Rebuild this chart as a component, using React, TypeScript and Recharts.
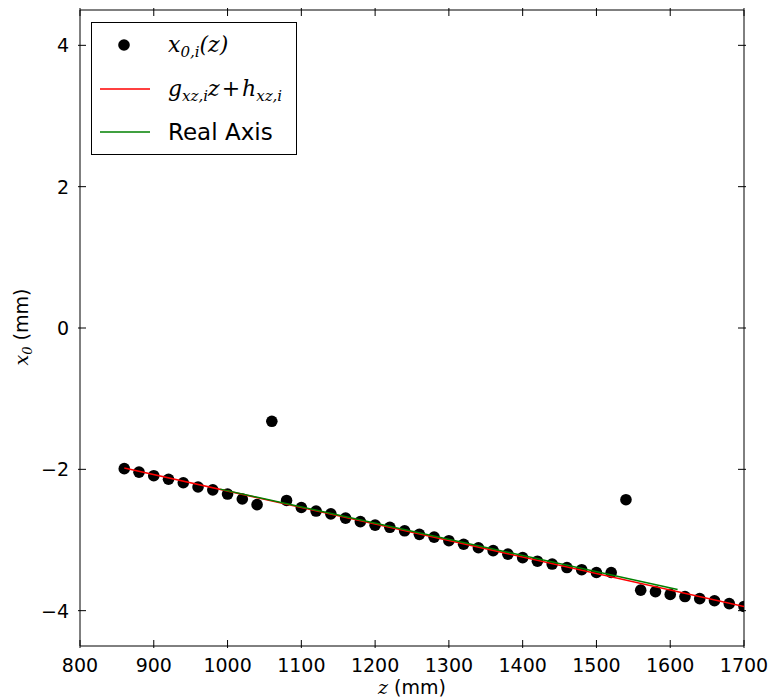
import React from "react";
import {
  ComposedChart,
  Scatter,
  XAxis,
  YAxis,
} from "recharts";

// sample positions along the beam (mm) and measured x0 (mm)
const zValues = [
  860, 880, 900, 920, 940, 960, 980, 1000, 1020, 1040, 1060, 1080, 1100, 1120,
  1140, 1160, 1180, 1200, 1220, 1240, 1260, 1280, 1300, 1320, 1340, 1360, 1380,
  1400, 1420, 1440, 1460, 1480, 1500, 1520, 1540, 1560, 1580, 1600, 1620, 1640,
  1660, 1680, 1700,
];
const x0Values = [
  -1.99, -2.04, -2.09, -2.14, -2.19, -2.25, -2.29, -2.35, -2.42, -2.5, -1.32,
  -2.44, -2.54, -2.59, -2.63, -2.69, -2.74, -2.79, -2.82, -2.87, -2.92, -2.96,
  -3.01, -3.06, -3.11, -3.15, -3.2, -3.25, -3.3, -3.34, -3.39, -3.42, -3.46,
  -3.46, -2.43, -3.71, -3.73, -3.77, -3.8, -3.83, -3.86, -3.9, -3.94,
];

// fitted line g*z + h, end points
const fitZ = [860, 1700];
const fitX0 = [-1.98, -3.94];

// real axis, end points
const realZ = [990, 1610];
const realX0 = [-2.28, -3.7];

const xTicks = [800, 900, 1000, 1100, 1200, 1300, 1400, 1500, 1600, 1700];
const yTicks = [-4, -2, 0, 2, 4];

const points = zValues.map((z, i) => ({ z, x0: x0Values[i] }));
const fitLine = fitZ.map((z, i) => ({ z, x0: fitX0[i] }));
const realLine = realZ.map((z, i) => ({ z, x0: realX0[i] }));

const TICK_LEN = 8;
const FONT = "'DejaVu Sans', sans-serif";
const MATH = "'DejaVu Serif', 'Liberation Serif', serif";

const fmt = (v: number) => (v < 0 ? "\u2212" + Math.abs(v) : String(v));

function BottomTick(props: any) {
  const { x, y, payload } = props;
  return (
    <g>
      <line x1={x} y1={y} x2={x} y2={y - TICK_LEN} stroke="#000" />
      <text x={x} y={y + 24} textAnchor="middle" fontSize={19} fontFamily={FONT} fill="#000">
        {fmt(payload.value)}
      </text>
    </g>
  );
}

function TopTick(props: any) {
  const { x, y } = props;
  return <line x1={x} y1={y} x2={x} y2={y + TICK_LEN} stroke="#000" />;
}

function LeftTick(props: any) {
  const { x, y, payload } = props;
  return (
    <g>
      <line x1={x} y1={y} x2={x + TICK_LEN} y2={y} stroke="#000" />
      <text x={x - 9} y={y} dy="0.36em" textAnchor="end" fontSize={19} fontFamily={FONT} fill="#000">
        {fmt(payload.value)}
      </text>
    </g>
  );
}

function RightTick(props: any) {
  const { x, y } = props;
  return <line x1={x} y1={y} x2={x - TICK_LEN} y2={y} stroke="#000" />;
}

const Dot = (props: any) => <circle cx={props.cx} cy={props.cy} r={5.8} fill="#000" />;
const NoDot = () => <g />;

function LegendBox() {
  return (
    <div
      style={{
        position: "absolute",
        left: 91,
        top: 22,
        width: 206,
        height: 133,
        border: "1px solid #000",
        background: "#fff",
        boxSizing: "border-box",
      }}
    >
      <svg width={206} height={133} style={{ position: "absolute", left: -1, top: -1 }}>
        <circle cx={33} cy={23} r={5.8} fill="#000" />
        <line x1={9} y1={67} x2={59} y2={67} stroke="#ff0000" strokeWidth={1.5} />
        <line x1={9} y1={110} x2={59} y2={110} stroke="#008000" strokeWidth={1.5} />
        <text x={77} y={30} fontFamily={MATH} fontStyle="italic" fontSize={22} fill="#000">
          x<tspan fontSize={15} dy={5}>0,i</tspan>
          <tspan dy={-5}>(z)</tspan>
        </text>
        <text x={77} y={74} fontFamily={MATH} fontStyle="italic" fontSize={22} fill="#000">
          g<tspan fontSize={15} dy={5}>xz,i</tspan>
          <tspan dy={-5}>z</tspan>
          <tspan fontStyle="normal" dx={2}>+</tspan>
          <tspan dx={2}>h</tspan>
          <tspan fontSize={15} dy={5}>xz,i</tspan>
        </text>
        <text x={77} y={118} fontFamily={FONT} fontSize={23} fill="#000">
          Real Axis
        </text>
      </svg>
    </div>
  );
}

export default function App() {
  return (
    <div
      style={{
        position: "absolute",
        left: 0,
        top: 0,
        width: 771,
        height: 699,
        background: "#fff",
      }}
    >
      <ComposedChart
        width={771}
        height={699}
        margin={{ top: 9, right: 26, bottom: 0, left: 0 }}
      >
        <XAxis
          xAxisId={0}
          dataKey="z"
          type="number"
          domain={[800, 1700]}
          ticks={xTicks}
          allowDataOverflow
          height={53}
          tickSize={0}
          tickLine={false}
          tick={<BottomTick />}
          axisLine={{ stroke: "#000", strokeWidth: 1 }}
          interval={0}
        />
        <XAxis
          xAxisId="top"
          orientation="top"
          dataKey="z"
          type="number"
          domain={[800, 1700]}
          ticks={xTicks}
          allowDataOverflow
          height={1}
          tickSize={0}
          tickLine={false}
          tick={<TopTick />}
          axisLine={{ stroke: "#000", strokeWidth: 1 }}
          interval={0}
        />
        <YAxis
          yAxisId={0}
          dataKey="x0"
          type="number"
          domain={[-4.5, 4.5]}
          ticks={yTicks}
          allowDataOverflow
          width={80}
          tickSize={0}
          tickLine={false}
          tick={<LeftTick />}
          axisLine={{ stroke: "#000", strokeWidth: 1 }}
          interval={0}
        />
        <YAxis
          yAxisId="right"
          orientation="right"
          dataKey="x0"
          type="number"
          domain={[-4.5, 4.5]}
          ticks={yTicks}
          allowDataOverflow
          width={1}
          tickSize={0}
          tickLine={false}
          tick={<RightTick />}
          axisLine={{ stroke: "#000", strokeWidth: 1 }}
          interval={0}
        />
        <Scatter
          data={points}
          dataKey="x0"
          fill="#000"
          shape={<Dot />}
          isAnimationActive={false}
        />
        <Scatter
          data={fitLine}
          dataKey="x0"
          line={{ stroke: "#ff0000", strokeWidth: 1.5 }}
          shape={<NoDot />}
          isAnimationActive={false}
        />
        <Scatter
          data={realLine}
          dataKey="x0"
          line={{ stroke: "#008000", strokeWidth: 1.5 }}
          shape={<NoDot />}
          isAnimationActive={false}
        />
        <Scatter
          xAxisId="top"
          yAxisId="right"
          data={points}
          dataKey="x0"
          shape={<NoDot />}
          isAnimationActive={false}
        />
        <text x={412} y={694} textAnchor="middle" fontSize={19} fontFamily={FONT} fill="#000">
          <tspan fontFamily={MATH} fontStyle="italic">z</tspan> (mm)
        </text>
        <text
          x={28}
          y={327}
          transform="rotate(-90 28 327)"
          textAnchor="middle"
          fontSize={19}
          fontFamily={FONT}
          fill="#000"
        >
          <tspan fontFamily={MATH} fontStyle="italic">x</tspan>
          <tspan fontFamily={MATH} fontStyle="italic" fontSize={13} dy={4}>0</tspan>
          <tspan dy={-4}> (mm)</tspan>
        </text>
      </ComposedChart>
      <LegendBox />
    </div>
  );
}
